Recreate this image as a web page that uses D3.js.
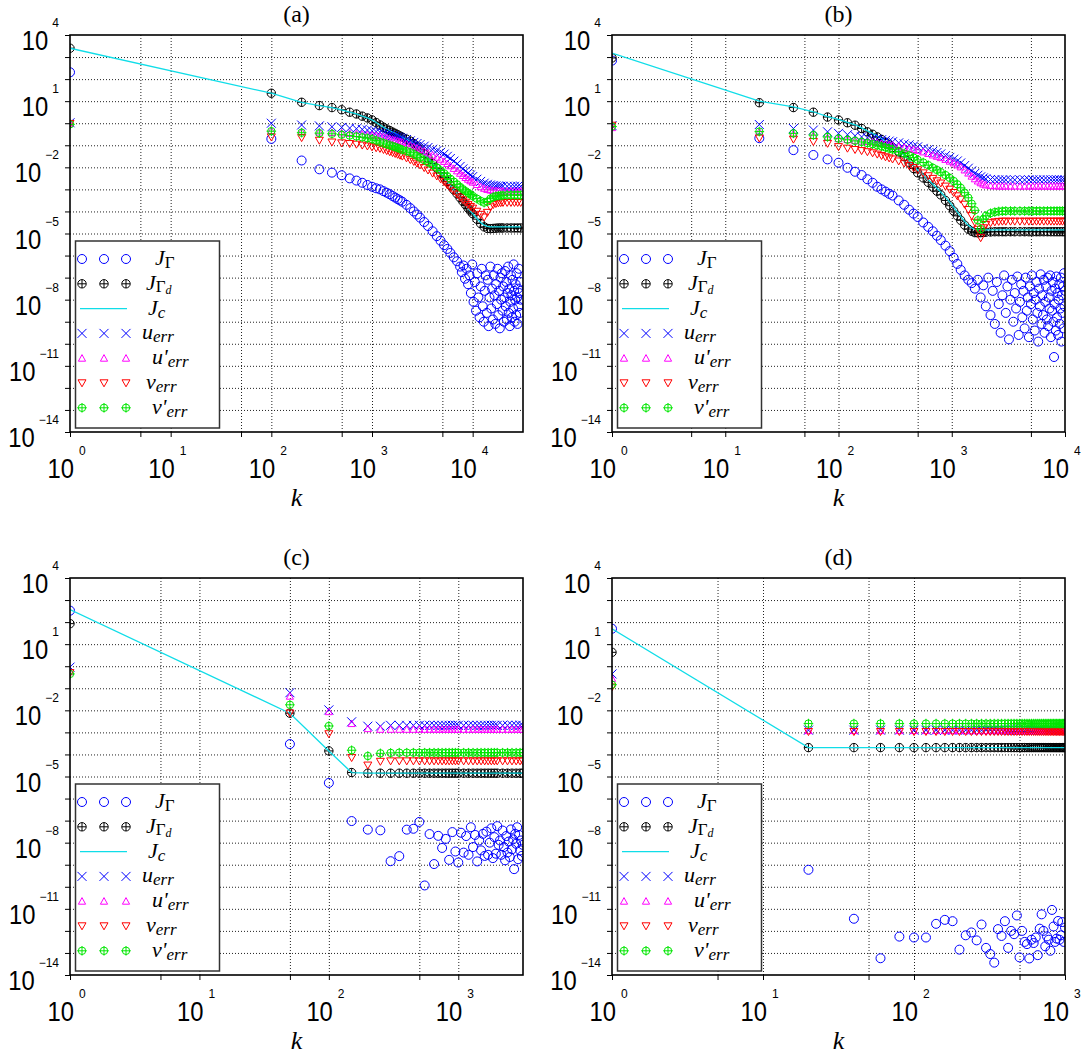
<!DOCTYPE html>
<html><head><meta charset="utf-8">
<script src="https://cdn.jsdelivr.net/npm/d3@7"></script>
<style>body{margin:0;background:#fff}svg{display:block}</style>
</head><body>
<svg id="chart" width="1084" height="1056"></svg>
<script>
// ---------------- DATA (values are log10 of the plotted quantity) ----------------
const yTickExps = [4, 1, -2, -5, -8, -11, -14];
const xTickExpsA = [0, 1, 2, 3, 4];
const xTickExpsB = [0, 1, 2, 3, 4];
const xTickExpsC = [0, 1, 2, 3];
const xTickExpsD = [0, 1, 2, 3];
const panelTitles = ["(a)", "(b)", "(c)", "(d)"];

// Panel (a)
const kA = [1,100,200,300,400,500,600,700,800,900,1000,1100,1200,1300,1400,1500,1600,1700,1800,1900,2000,2200,2400,2600,2800,3000,3300,3600,4000,4400,4800,5200,5600,6000,6500,7000,7500,8000,8500,9000,9500,10000,11000,12000,13000,14000,15000,16000,17000,18000,19000,20000,22000,24000,26000,28000,30000];
const jGammaA = [2.31,-0.71,-1.69,-2.09,-2.24,-2.36,-2.5,-2.6,-2.7,-2.8,-2.88, -2.95,-3.0,-3.08,-3.15,-3.22,-3.3,-3.37,-3.44,-3.5,-3.56, -3.7,-3.85,-4.0,-4.14,-4.28, -4.48,-4.66, -4.9,-5.12,-5.33,-5.53,-5.7, -5.88,-6.08,-6.26];
const kCloudA = [7500,7800,8100,8400,8700,9000,9300,9600,9900,10200,10500,10800,11100,11400,11700,12000,12300,12600,12900,13200,13500,13800,14100,14400,14700,15000,15300,15600,15900,16200,16500,16800,17100,17400,17700,18000,18300,18600,18900,19200,19500,19800,20100,20400,20700,21000,21300,21600,21900,22200,22500,22800,23100,23400,23700,24000,24300,24600,24900,25200,25500,25800,26100,26400,26700,27000,27300,27600,27900,28200,28500,28800,29100,29400,29700,30000];
const jGammaCloudA = [-6.5,-6.75,-6.45,-7.05,-6.6,-7.3,-6.9,-7.7,-6.4,-8.1,-7.2,-8.5,-6.8,-7.9,-8.8,-7.4,-6.6,-8.3,-9.0,-7.6,-6.9,-8.6,-7.1,-9.2,-7.9,-6.5,-8.4,-7.5,-8.9,-6.9,-7.8,-9.1,-7.3,-8.2,-6.6,-8.7,-7.6,-9.3,-7.0,-8.0,-6.8,-8.5,-7.4,-9.0,-7.9,-6.7,-8.3,-7.2,-8.9,-7.7,-6.5,-8.6,-7.5,-9.2,-8.1,-6.9,-7.8,-8.8,-7.1,-8.4,-6.4,-7.6,-9.0,-8.0,-7.3,-8.7,-6.8,-7.9,-9.1,-7.5,-8.3,-6.6,-7.7,-8.6,-7.2,-8.0];
const jGammaDA = [3.40,1.36,0.95,0.80,0.71,0.61,0.50,0.42,0.32,0.24,0.15, 0.03,-0.08,-0.18,-0.26,-0.33,-0.40,-0.46,-0.52,-0.58,-0.63, -0.72,-0.81,-0.92,-1.05,-1.18, -1.38,-1.58, -1.82,-2.04,-2.25,-2.45,-2.64, -2.82,-3.02,-3.2,-3.38,-3.55,-3.7,-3.85,-3.98,-4.1, -4.35,-4.55,-4.7,-4.77,-4.78,-4.77,-4.76,-4.75,-4.75,-4.75, -4.75,-4.75,-4.75,-4.75,-4.75];
const jcA = [3.40,1.36,0.95,0.80,0.71,0.61,0.50,0.42,0.32,0.24,0.15, 0.03,-0.08,-0.18,-0.26,-0.33,-0.40,-0.46,-0.52,-0.58,-0.63, -0.72,-0.81,-0.92,-1.05,-1.18, -1.38,-1.58, -1.82,-2.04,-2.25,-2.45,-2.64, -2.82,-3.02,-3.2,-3.38,-3.55,-3.7,-3.85,-3.98,-4.1, -4.32,-4.5,-4.62,-4.68,-4.7,-4.7,-4.7,-4.7,-4.7,-4.7, -4.7,-4.7,-4.7,-4.7,-4.7];
const uErrA = [0.02,0.0,-0.08,-0.12,-0.16,-0.19,-0.22,-0.25,-0.28,-0.31,-0.34, -0.38,-0.41,-0.45,-0.49,-0.52,-0.56,-0.59,-0.62,-0.65,-0.68, -0.74,-0.8,-0.87,-0.92,-0.97, -1.04,-1.1, -1.18,-1.25,-1.32,-1.4,-1.5, -1.6,-1.72,-1.84,-1.96,-2.07,-2.17,-2.26,-2.35,-2.42, -2.54,-2.64,-2.72,-2.77,-2.8,-2.82,-2.84,-2.85,-2.86,-2.86, -2.86,-2.86,-2.86,-2.86,-2.86];
const uPrA = [0.0,-0.33,-0.38,-0.40,-0.42,-0.44,-0.46,-0.48,-0.50,-0.52,-0.54, -0.56,-0.58,-0.62,-0.66,-0.7,-0.74,-0.78,-0.81,-0.84,-0.87, -0.93,-1.0,-1.07,-1.13,-1.19, -1.27,-1.35, -1.45,-1.54,-1.63,-1.73,-1.83, -1.93,-2.05,-2.16,-2.27,-2.37,-2.46,-2.54,-2.61,-2.67, -2.78,-2.88,-2.95,-3.0,-3.03,-3.05,-3.06,-3.07,-3.08,-3.08, -3.08,-3.08,-3.08,-3.08,-3.08];
const vErrA = [-0.02,-0.63,-0.66,-0.78,-0.86,-0.9,-0.93,-0.96,-1.0,-1.04,-1.08, -1.12,-1.15,-1.2,-1.25,-1.3,-1.34,-1.38,-1.42,-1.46,-1.5, -1.58,-1.66,-1.74,-1.82,-1.9, -2.02,-2.13, -2.27,-2.4,-2.53,-2.66,-2.8, -2.93,-3.08,-3.22,-3.36,-3.48,-3.59,-3.69,-3.78,-3.86, -4.0,-4.14,-4.26,-4.05,-3.8,-3.7,-3.65,-3.62,-3.61,-3.6, -3.6,-3.6,-3.6,-3.6,-3.6];
const vPrA = [-0.05,-0.36,-0.43,-0.45,-0.48,-0.52,-0.56,-0.6,-0.64,-0.68,-0.72, -0.78,-0.85,-0.9,-0.95,-1.0,-1.04,-1.08,-1.12,-1.16,-1.2, -1.26,-1.32,-1.4,-1.48,-1.56, -1.67,-1.77, -1.9,-2.02,-2.14,-2.27,-2.4, -2.52,-2.65,-2.77,-2.89,-2.99,-3.08,-3.16,-3.23,-3.3, -3.42,-3.52,-3.6,-3.55,-3.42,-3.35,-3.31,-3.29,-3.28,-3.27, -3.26,-3.26,-3.26,-3.26,-3.26];

// Panel (b)
const kB = [1,20,40,60,80,100,120,140,160,180,200,220,240,260,280,300,340,380,420,460,500,560,620,680,740,800,880,960,1040,1120,1200,1300,1400,1500,1600,1700,1800,1900,2000,2200,2400,2600,2800,3000,3300,3600,4000,4400,4800,5200,5600,6000,6500,7000,7500,8000,8500,9000,9500,10000];
const jGammaB = [2.84,-0.68,-1.22,-1.44,-1.64,-1.79,-2.02,-2.2,-2.35,-2.54,-2.7,-2.88,-3.0,-3.1,-3.2,-3.28, -3.5,-3.7,-3.92,-4.1,-4.25, -4.5,-4.7,-4.9,-5.1,-5.3, -5.55,-5.8,-6.1,-6.38,-6.65, -6.9,-7.1];
const kCloudB = [1500,1600,1700,1800,1900,2000,2100,2200,2300,2400,2500,2600,2700,2800,2900,3000,3100,3200,3300,3400,3500,3600,3700,3800,3900,4000,4100,4200,4300,4400,4500,4600,4700,4800,4900,5000,5100,5200,5300,5400,5500,5600,5700,5800,5900,6000,6100,6200,6300,6400,6500,6600,6700,6800,6900,7000,7100,7200,7300,7400,7500,7600,7700,7800,7900,8000,8100,8200,8300,8400,8500,8600,8700,8800,8900,9000,9100,9200,9300,9400,9500,9600,9700,9800,9900,10000];
const jGammaCloudB = [-7.25,-7.5,-7.1,-7.9,-7.35,-8.3,-7.0,-8.7,-7.6,-9.1,-7.2,-8.2,-9.5,-7.8,-6.9,-8.6,-7.4,-9.8,-8.0,-7.1,-9.0,-7.7,-8.4,-6.95,-9.6,-8.1,-7.3,-8.8,-7.6,-9.3,-7.0,-8.5,-7.9,-9.7,-7.4,-8.2,-6.9,-8.9,-7.7,-9.4,-8.0,-7.2,-8.6,-9.9,-7.5,-8.3,-6.85,-9.1,-7.8,-8.7,-7.1,-9.5,-8.1,-7.4,-8.9,-7.0,-9.2,-7.9,-8.4,-6.9,-9.7,-7.6,-8.5,-7.2,-9.0,-10.6,-8.2,-7.5,-9.4,-6.95,-8.8,-7.7,-9.6,-8.0,-7.3,-9.1,-8.4,-7.0,-9.9,-7.8,-8.6,-7.4,-9.3,-6.8,-8.3,-7.6];
const jGammaDB = [2.96,0.93,0.71,0.5,0.28,0.15,0.02,-0.09,-0.24,-0.39,-0.5,-0.62,-0.74,-0.86,-0.98,-1.1, -1.3,-1.52,-1.8,-2.05,-2.25, -2.48,-2.68,-2.9,-3.08,-3.25, -3.5,-3.74,-3.98,-4.2,-4.4, -4.62,-4.8,-4.9,-4.96,-4.97,-4.96,-4.95,-4.94, -4.93,-4.92,-4.92,-4.92,-4.92, -4.92,-4.92, -4.92,-4.92,-4.92,-4.92,-4.92, -4.92,-4.92,-4.92,-4.92,-4.92,-4.92,-4.92,-4.92,-4.92];
const jcB = [3.18,1.0,0.74,0.52,0.3,0.17,0.04,-0.07,-0.21,-0.35,-0.46,-0.58,-0.7,-0.82,-0.93,-1.04, -1.24,-1.45,-1.68,-1.92,-2.12, -2.35,-2.55,-2.76,-2.95,-3.12, -3.35,-3.58,-3.8,-4.02,-4.22, -4.45,-4.63,-4.75,-4.81,-4.83,-4.84,-4.84,-4.84, -4.84,-4.84,-4.84,-4.84,-4.84, -4.84,-4.84, -4.84,-4.84,-4.84,-4.84,-4.84, -4.84,-4.84,-4.84,-4.84,-4.84,-4.84,-4.84,-4.84,-4.84];
const uErrB = [-0.11,-0.06,-0.24,-0.31,-0.39,-0.46,-0.52,-0.57,-0.62,-0.66,-0.69,-0.72,-0.75,-0.78,-0.81,-0.84, -0.89,-0.94,-0.98,-1.03,-1.07, -1.14,-1.2,-1.27,-1.33,-1.39, -1.47,-1.55,-1.63,-1.71,-1.8, -1.92,-2.04,-2.16,-2.27,-2.36,-2.43,-2.48,-2.52, -2.55,-2.56,-2.57,-2.57,-2.57, -2.57,-2.57, -2.57,-2.57,-2.57,-2.57,-2.57, -2.57,-2.57,-2.57,-2.57,-2.57,-2.57,-2.57,-2.57,-2.57];
const uPrB = [-0.2,-0.38,-0.48,-0.56,-0.65,-0.7,-0.74,-0.78,-0.81,-0.83,-0.85,-0.89,-0.92,-0.95,-0.98,-1.0, -1.05,-1.1,-1.15,-1.19,-1.23, -1.3,-1.37,-1.44,-1.5,-1.56, -1.64,-1.72,-1.8,-1.89,-1.98, -2.12,-2.26,-2.4,-2.52,-2.62,-2.7,-2.76,-2.8, -2.83,-2.84,-2.85,-2.85,-2.85, -2.85,-2.85, -2.85,-2.85,-2.85,-2.85,-2.85, -2.85,-2.85,-2.85,-2.85,-2.85,-2.85,-2.85,-2.85,-2.85];
const vErrB = [-0.1,-0.68,-0.73,-0.84,-0.92,-1.07,-1.14,-1.2,-1.25,-1.3,-1.35,-1.41,-1.47,-1.53,-1.58,-1.63, -1.72,-1.82,-1.92,-2.02,-2.12, -2.26,-2.39,-2.51,-2.62,-2.72, -2.86,-3.0,-3.15,-3.3,-3.45, -3.68,-3.92,-4.2,-4.5,-4.82,-5.2,-4.75,-4.6, -4.52,-4.48,-4.46,-4.45,-4.45, -4.45,-4.45, -4.45,-4.45,-4.45,-4.45,-4.45, -4.45,-4.45,-4.45,-4.45,-4.45,-4.45,-4.45,-4.45,-4.45];
const vPrB = [-0.15,-0.38,-0.46,-0.54,-0.62,-0.7,-0.75,-0.8,-0.85,-0.9,-0.95,-1.0,-1.05,-1.1,-1.15,-1.19, -1.28,-1.37,-1.46,-1.56,-1.66, -1.78,-1.9,-2.02,-2.12,-2.22, -2.35,-2.48,-2.62,-2.77,-2.93, -3.15,-3.38,-3.65,-3.95,-4.4,-4.8,-4.35,-4.2, -4.08,-4.03,-4.0,-3.99,-3.98, -3.98,-3.98, -3.98,-3.98,-3.98,-3.98,-3.98, -3.98,-3.98,-3.98,-3.98,-3.98,-3.98,-3.98,-3.98,-3.98];

// Panel (c)
const kC = [1,50,100,150,200,250,300,350,400,450,500,550,600,650,700,750,800,850,900,950,1000,1100,1200,1300,1400,1500,1600,1700,1800,1900,2000,2200,2400,2600,2800,3000,3150];
const kGammaC = [1,50,100,150,200,250,300,350,400,450,500,550,600,650,700,750,800,850,900,950,1000,1050,1100,1150,1200,1250,1300,1350,1400,1450,1500,1550,1600,1650,1700,1750,1800,1850,1900,1950,2000,2050,2100,2150,2200,2250,2300,2350,2400,2450,2500,2550,2600,2650,2700,2750,2800,2850,2900,2950,3000,3050,3100,3150];
const jGammaC = [2.52,-3.53,-5.29,-7.02,-7.41,-7.44,-8.84,-8.61,-7.41,-7.37,-7.06,-9.94,-7.61,-8.97,-7.69,-8.24,-7.83,-8.78,-7.52,-8.4,-8.9,-7.55,-8.45,-7.7,-8.55,-7.3,-8.2,-7.65,-8.85,-7.9,-8.35,-7.6,-8.6,-7.5,-8.55,-8.0,-7.35,-8.7,-7.75,-8.5,-7.25,-8.1,-7.9,-8.55,-7.45,-8.2,-8.8,-7.7,-8.45,-7.95,-8.65,-7.4,-8.3,-7.85,-9.2,-7.6,-8.05,-7.3,-8.75,-7.65,-8.35,-7.9,-8.6,-8.1];
const jGammaDC = [1.93,-2.13,-3.84,-4.82,-4.85,-4.85,-4.85,-4.85,-4.85,-4.85,-4.85,-4.85,-4.85,-4.85,-4.85,-4.85,-4.85,-4.85,-4.85,-4.85,-4.85,-4.85,-4.85,-4.85,-4.85,-4.85,-4.85,-4.85,-4.85,-4.85,-4.85,-4.85,-4.85,-4.85,-4.85,-4.85,-4.85];
const jcC = [2.57,-2.13,-3.84,-4.82,-4.85,-4.85,-4.85,-4.85,-4.85,-4.85,-4.85,-4.85,-4.85,-4.85,-4.85,-4.85,-4.85,-4.85,-4.85,-4.85,-4.85,-4.85,-4.85,-4.85,-4.85,-4.85,-4.85,-4.85,-4.85,-4.85,-4.85,-4.85,-4.85,-4.85,-4.85,-4.85,-4.85];
const uErrC = [-0.04,-1.2,-1.98,-2.52,-2.72,-2.72,-2.68,-2.68,-2.68,-2.68,-2.68,-2.68,-2.68,-2.68,-2.68,-2.68,-2.68,-2.68,-2.68,-2.68,-2.68,-2.68,-2.68,-2.68,-2.68,-2.68,-2.68,-2.68,-2.68,-2.68,-2.68,-2.68,-2.68,-2.68,-2.68,-2.68,-2.68];
const uPrC = [-0.25,-1.36,-2.06,-2.6,-2.83,-2.86,-2.86,-2.86,-2.86,-2.86,-2.86,-2.86,-2.86,-2.86,-2.86,-2.86,-2.86,-2.86,-2.86,-2.86,-2.86,-2.86,-2.86,-2.86,-2.86,-2.86,-2.86,-2.86,-2.86,-2.86,-2.86,-2.86,-2.86,-2.86,-2.86,-2.86,-2.86];
const vErrC = [-0.3,-2.13,-3.07,-4.15,-4.49,-4.32,-4.3,-4.3,-4.3,-4.3,-4.3,-4.3,-4.3,-4.3,-4.3,-4.3,-4.3,-4.3,-4.3,-4.3,-4.3,-4.3,-4.3,-4.3,-4.3,-4.3,-4.3,-4.3,-4.3,-4.3,-4.3,-4.3,-4.3,-4.3,-4.3,-4.3,-4.3];
const vPrC = [-0.35,-1.75,-2.71,-3.81,-4.07,-3.95,-3.93,-3.92,-3.92,-3.92,-3.92,-3.92,-3.92,-3.92,-3.92,-3.92,-3.92,-3.92,-3.92,-3.92,-3.92,-3.92,-3.92,-3.92,-3.92,-3.92,-3.92,-3.92,-3.92,-3.92,-3.92,-3.92,-3.92,-3.92,-3.92,-3.92,-3.92];

// Panel (d)
const kD = [1,20,40,60,80,100,120,140,160,180,200,220,240,260,280,300,320,340,360,380,400,420,440,460,480,500,520,540,560,580,600,620,640,660,680,700,720,740,760,780,800,820,840,860,880,900,920,940,960,980,1000];
const jGammaD = [1.70,-9.23,-11.45,-13.24,-12.26,-12.3,-12.3,-11.68,-11.5,-11.56,-12.85,-12.2,-12.07,-12.43,-11.71,-12.77,-13.05,-13.44,-11.92,-12.23,-11.56,-12.77,-12.0,-12.15,-11.3,-13.2,-12.0,-12.5,-12.6,-13.25,-12.4,-12.55,-12.3,-13.1,-11.9,-11.25,-12.0,-12.7,-12.25,-12.4,-12.9,-11.05,-11.8,-12.5,-12.35,-11.55,-12.4,-12.2,-11.6,-12.5,-11.85];
const jGammaDD = [0.63,-3.69,-3.69,-3.69,-3.69,-3.69,-3.69,-3.69,-3.69,-3.69,-3.69,-3.69,-3.69,-3.69,-3.69,-3.69,-3.69,-3.69,-3.69,-3.69,-3.69,-3.69,-3.69,-3.69,-3.69,-3.69,-3.69,-3.69,-3.69,-3.69,-3.69,-3.69,-3.69,-3.69,-3.69,-3.69,-3.69,-3.69,-3.69,-3.69,-3.69,-3.69,-3.69,-3.69,-3.69,-3.69,-3.69,-3.69,-3.69,-3.69,-3.69];
const jcD = [1.70,-3.69,-3.69,-3.69,-3.69,-3.69,-3.69,-3.69,-3.69,-3.69,-3.69,-3.69,-3.69,-3.69,-3.69,-3.69,-3.69,-3.69,-3.69,-3.69,-3.69,-3.69,-3.69,-3.69,-3.69,-3.69,-3.69,-3.69,-3.69,-3.69,-3.69,-3.69,-3.69,-3.69,-3.69,-3.69,-3.69,-3.69,-3.69,-3.69,-3.69,-3.69,-3.69,-3.69,-3.69,-3.69,-3.69,-3.69,-3.69,-3.69,-3.69];
const uErrD = [-0.35,-2.9,-2.9,-2.9,-2.9,-2.9,-2.9,-2.9,-2.9,-2.9,-2.9,-2.9,-2.9,-2.9,-2.9,-2.9,-2.9,-2.9,-2.9,-2.9,-2.9,-2.9,-2.9,-2.9,-2.9,-2.9,-2.9,-2.9,-2.9,-2.9,-2.9,-2.9,-2.9,-2.9,-2.9,-2.9,-2.9,-2.9,-2.9,-2.9,-2.9,-2.9,-2.9,-2.9,-2.9,-2.9,-2.9,-2.9,-2.9,-2.9,-2.9];
const uPrD = [-0.55,-2.92,-2.92,-2.92,-2.92,-2.92,-2.92,-2.92,-2.92,-2.92,-2.92,-2.92,-2.92,-2.92,-2.92,-2.92,-2.92,-2.92,-2.92,-2.92,-2.92,-2.92,-2.92,-2.92,-2.92,-2.92,-2.92,-2.92,-2.92,-2.92,-2.92,-2.92,-2.92,-2.92,-2.92,-2.92,-2.92,-2.92,-2.92,-2.92,-2.92,-2.92,-2.92,-2.92,-2.92,-2.92,-2.92,-2.92,-2.92,-2.92,-2.92];
const vErrD = [-0.95,-2.97,-2.97,-2.97,-2.97,-2.97,-2.97,-2.97,-2.97,-2.97,-2.97,-2.97,-2.97,-2.97,-2.97,-2.97,-2.97,-2.97,-2.97,-2.97,-2.97,-2.97,-2.97,-2.97,-2.97,-2.97,-2.97,-2.97,-2.97,-2.97,-2.97,-2.97,-2.97,-2.97,-2.97,-2.97,-2.97,-2.97,-2.97,-2.97,-2.97,-2.97,-2.97,-2.97,-2.97,-2.97,-2.97,-2.97,-2.97,-2.97,-2.97];
const vPrD = [-0.84,-2.6,-2.6,-2.6,-2.6,-2.6,-2.6,-2.6,-2.6,-2.6,-2.6,-2.6,-2.6,-2.6,-2.6,-2.6,-2.6,-2.6,-2.6,-2.6,-2.6,-2.6,-2.6,-2.6,-2.6,-2.6,-2.6,-2.6,-2.6,-2.6,-2.6,-2.6,-2.6,-2.6,-2.6,-2.6,-2.6,-2.6,-2.6,-2.6,-2.6,-2.6,-2.6,-2.6,-2.6,-2.6,-2.6,-2.6,-2.6,-2.6,-2.6];

// ---------------- LAYOUT / STYLE ----------------
const zip = (ks, vs) => { const n = Math.min(ks.length, vs.length), o = []; for (let i = 0; i < n; i++) o.push([ks[i], vs[i]]); return o; };
const P10 = v => Math.pow(10, v);

const panels = [
  {title: panelTitles[0], left: 70, right: 523, top: 35, bottom: 432, xMax: P10(4.5), xTicks: xTickExpsA,
   gamma: zip(kA, jGammaA).concat(zip(kCloudA, jGammaCloudA)), jGd: zip(kA, jGammaDA), jc: zip(kA, jcA),
   uE: zip(kA, uErrA), uP: zip(kA, uPrA), vE: zip(kA, vErrA), vP: zip(kA, vPrA)},
  {title: panelTitles[1], left: 612, right: 1065, top: 35, bottom: 432, xMax: P10(4), xTicks: xTickExpsB,
   gamma: zip(kB, jGammaB).concat(zip(kCloudB, jGammaCloudB)), jGd: zip(kB, jGammaDB), jc: zip(kB, jcB),
   uE: zip(kB, uErrB), uP: zip(kB, uPrB), vE: zip(kB, vErrB), vP: zip(kB, vPrB)},
  {title: panelTitles[2], left: 70, right: 523, top: 578, bottom: 975, xMax: P10(3.5), xTicks: xTickExpsC,
   gamma: zip(kGammaC, jGammaC), jGd: zip(kC, jGammaDC), jc: zip(kC, jcC),
   uE: zip(kC, uErrC), uP: zip(kC, uPrC), vE: zip(kC, vErrC), vP: zip(kC, vPrC)},
  {title: panelTitles[3], left: 612, right: 1065, top: 578, bottom: 975, xMax: P10(3), xTicks: xTickExpsD,
   gamma: zip(kD, jGammaD), jGd: zip(kD, jGammaDD), jc: zip(kD, jcD),
   uE: zip(kD, uErrD), uP: zip(kD, uPrD), vE: zip(kD, vErrD), vP: zip(kD, vPrD)}
];

const SH = {
  circle: 'M4.5,0A4.5,4.5 0 1,1 -4.5,0A4.5,4.5 0 1,1 4.5,0Z',
  oplus: 'M4.2,0A4.2,4.2 0 1,1 -4.2,0A4.2,4.2 0 1,1 4.2,0ZM-4.2,0H4.2M0,-4.2V4.2',
  cross: 'M-4.5,-4.5L4.5,4.5M-4.5,4.5L4.5,-4.5',
  triUp: 'M0,-3.6L3.6,3L-3.6,3Z',
  triDown: 'M0,3.8L4,-3.2L-4,-3.2Z',
  gplus: 'M3.7,0A3.7,3.7 0 1,1 -3.7,0A3.7,3.7 0 1,1 3.7,0ZM-4.8,0H4.8M0,-4.8V4.8'
};
const COL = {blue: '#0000ff', black: '#000000', cyan: '#10dde8', magenta: '#ff00ff', red: '#ff0000', green: '#00e600'};
const markerSeries = [
  {key: 'gamma', shape: 'circle', color: COL.blue},
  {key: 'jGd', shape: 'oplus', color: COL.black},
  {key: 'jc', line: true, color: COL.cyan},
  {key: 'uE', shape: 'cross', color: COL.blue},
  {key: 'uP', shape: 'triUp', color: COL.magenta},
  {key: 'vE', shape: 'triDown', color: COL.red},
  {key: 'vP', shape: 'gplus', color: COL.green}
];
const SANS = "'Liberation Sans', Arial, Helvetica, sans-serif";
const SERIF = "'Liberation Serif', 'Times New Roman', serif";

const svg = d3.select('#chart');

panels.forEach((p, pi) => {
  const x = d3.scaleLog().domain([1, p.xMax]).range([p.left, p.right]);
  const y = d3.scaleLog().domain([1e-14, 1e4]).range([p.bottom, p.top]);
  const W = p.right - p.left, H = p.bottom - p.top;
  const g = svg.append('g');

  // grid
  const decades = d3.range(-13, 4).map(P10);
  const xGridVals = [];
  for (let e = 0; e <= 5; e++) { [P10(e), 5 * P10(e)].forEach(v => { if (v > 1.0001 && v < p.xMax * 0.999) xGridVals.push(v); }); }
  const gridStyle = sel => sel.call(s => s.select('.domain').remove())
    .call(s => s.selectAll('.tick line').attr('stroke', '#222').attr('stroke-width', 1).attr('stroke-dasharray', '1,2'));
  g.append('g').attr('transform', `translate(${p.left},0)`)
    .call(d3.axisLeft(y).tickValues(decades).tickSize(-W).tickFormat(''))
    .call(gridStyle);
  g.append('g').attr('transform', `translate(0,${p.bottom})`)
    .call(d3.axisBottom(x).tickValues(xGridVals).tickSize(H).tickSizeInner(-H).tickFormat(''))
    .call(gridStyle);

  // outward ticks
  const allDecY = d3.range(-14, 5).map(P10);
  g.append('g').attr('transform', `translate(${p.left},0)`)
    .call(d3.axisLeft(y).tickValues(allDecY).tickSize(5).tickFormat(''))
    .call(s => s.select('.domain').remove());
  const xTickVals = [];
  for (let e = 0; e <= 5; e++) { [P10(e), 5 * P10(e)].forEach(v => { if (v <= p.xMax * 1.0001) xTickVals.push(v); }); }
  g.append('g').attr('transform', `translate(0,${p.bottom})`)
    .call(d3.axisBottom(x).tickValues(xTickVals).tickSize(5).tickFormat(''))
    .call(s => s.select('.domain').remove());

  // clip
  const cid = 'clip' + pi;
  svg.append('clipPath').attr('id', cid).append('rect')
    .attr('x', p.left).attr('y', p.top).attr('width', W).attr('height', H);
  const plot = g.append('g').attr('clip-path', `url(#${cid})`);

  markerSeries.forEach(s => {
    const pts = p[s.key].filter(d => d[1] !== undefined && !isNaN(d[1]));
    if (s.line) {
      plot.append('path').datum(pts)
        .attr('d', d3.line().x(d => x(d[0])).y(d => y(P10(d[1]))))
        .attr('fill', 'none').attr('stroke', s.color).attr('stroke-width', 1.3);
    } else {
      plot.append('g').selectAll('path').data(pts).join('path')
        .attr('transform', d => `translate(${x(d[0])},${y(P10(d[1]))})`)
        .attr('d', SH[s.shape]).attr('fill', 'none').attr('stroke', s.color).attr('stroke-width', 1);
    }
  });

  // frame
  g.append('rect').attr('x', p.left).attr('y', p.top).attr('width', W).attr('height', H)
    .attr('fill', 'none').attr('stroke', '#000').attr('stroke-width', 1.6);

  // x tick labels
  p.xTicks.forEach(e => {
    const tx = x(P10(e));
    g.append('g').attr('transform', `translate(${tx + 4},${p.bottom + 46}) scale(0.85,1)`)
      .append('text').attr('text-anchor', 'end').attr('font-family', SANS).attr('font-size', 28).text('10');
    g.append('text').attr('x', tx + 9).attr('y', p.bottom + 23).attr('font-family', SANS).attr('font-size', 12).text(String(e));
  });
  // y tick labels
  yTickExps.forEach(e => {
    const ty = y(P10(e));
    const et = g.append('text').attr('x', p.left - 11).attr('y', ty - 8).attr('text-anchor', 'end')
      .attr('font-family', SANS).attr('font-size', 12).text(e < 0 ? '\u2212' + Math.abs(e) : String(e));
    const w = et.node().getComputedTextLength();
    g.append('g').attr('transform', `translate(${p.left - 11 - w - 4},${ty + 15}) scale(0.85,1)`)
      .append('text').attr('text-anchor', 'end').attr('font-family', SANS).attr('font-size', 28).text('10');
  });

  // title and x label
  g.append('text').attr('x', (p.left + p.right) / 2).attr('y', p.top - 13).attr('text-anchor', 'middle')
    .attr('font-family', SERIF).attr('font-size', 24).text(p.title);
  g.append('text').attr('x', (p.left + p.right) / 2).attr('y', p.bottom + 74).attr('text-anchor', 'middle')
    .attr('font-family', SERIF).attr('font-style', 'italic').attr('font-size', 26).text('k');

  // legend
  const lx = p.left + 5.5, ly = p.bottom - 191;
  const lg = g.append('g');
  lg.append('rect').attr('x', lx).attr('y', ly).attr('width', 144).attr('height', 187)
    .attr('fill', '#fff').attr('stroke', '#333').attr('stroke-width', 1.5);
  const rowY = i => ly + 18 + i * 24.8;
  const symX = [p.left + 12, p.left + 34, p.left + 56];
  markerSeries.forEach((s, i) => {
    const ry = rowY(i);
    if (s.line) {
      lg.append('line').attr('x1', p.left + 10).attr('x2', p.left + 57).attr('y1', ry).attr('y2', ry)
        .attr('stroke', s.color).attr('stroke-width', 1.3);
    } else {
      symX.forEach(sx => lg.append('path').attr('transform', `translate(${sx},${ry})`)
        .attr('d', SH[s.shape]).attr('fill', 'none').attr('stroke', s.color).attr('stroke-width', 1));
    }
  });
  const labels = [
    {dx: 85, parts: [['J', 22, 1, 0], ['\u0393', 17, 0, 3]]},
    {dx: 76, parts: [['J', 22, 1, 0], ['\u0393', 17, 0, 2], ['d', 12, 1, 2]]},
    {dx: 78, parts: [['J', 22, 1, 0], ['c', 17, 1, 3]]},
    {dx: 72, parts: [['u', 22, 1, 0], ['err', 17, 1, 3]]},
    {dx: 82, parts: [["u'", 22, 1, 0], ['err', 17, 1, 3]]},
    {dx: 76, parts: [['v', 22, 1, 0], ['err', 17, 1, 3]]},
    {dx: 82, parts: [["v'", 22, 1, 0], ['err', 17, 1, 3]]}
  ];
  labels.forEach((l, i) => {
    const t = lg.append('text').attr('x', p.left + l.dx).attr('y', rowY(i) + 6).attr('font-family', SERIF);
    l.parts.forEach(pt => {
      t.append('tspan').attr('font-size', pt[1]).attr('font-style', pt[2] ? 'italic' : 'normal')
        .attr('dy', pt[3]).text(pt[0]);
    });
  });
});
</script>
</body></html>
